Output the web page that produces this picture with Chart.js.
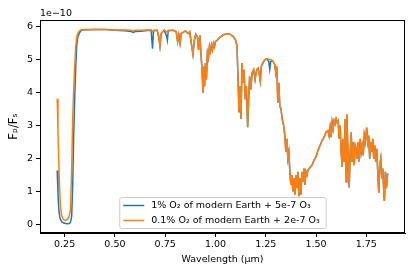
<!DOCTYPE html>
<html>
<head>
<meta charset="utf-8">
<script src="https://cdn.jsdelivr.net/npm/chart.js@4"></script>
<style>
  html, body { margin: 0; padding: 0; background: #fff; }
</style>
</head>
<body>
<canvas id="spectrum" width="415" height="277"></canvas>
<script>
// wavelength grid (micron), shared by both spectra
const wavelength = [
  0.213, 0.217, 0.221, 0.225, 0.229, 0.235, 0.243, 0.255, 0.265, 0.273,
  0.279, 0.285, 0.29, 0.295, 0.3, 0.305, 0.31, 0.315, 0.322, 0.33,
  0.34, 0.4, 0.45, 0.5, 0.55, 0.58, 0.593, 0.6, 0.63, 0.66,
  0.68, 0.687, 0.692, 0.71, 0.718, 0.724, 0.73, 0.745, 0.758, 0.761,
  0.765, 0.79, 0.805, 0.812, 0.818, 0.824, 0.83, 0.85, 0.865, 0.872,
  0.88, 0.888, 0.895, 0.902, 0.91, 0.916, 0.922, 0.928, 0.934, 0.938,
  0.942, 0.946, 0.95, 0.955, 0.96, 0.965, 0.97, 0.975, 0.98, 0.985,
  0.99, 0.995, 1.0, 1.01, 1.02, 1.04, 1.06, 1.075, 1.09, 1.1,
  1.107, 1.112, 1.117, 1.122, 1.127, 1.132, 1.137, 1.142, 1.148, 1.154,
  1.16, 1.165, 1.17, 1.176, 1.182, 1.19, 1.197, 1.205, 1.212, 1.218,
  1.223, 1.228, 1.235, 1.245, 1.255, 1.265, 1.27, 1.275, 1.285, 1.295,
  1.3, 1.305, 1.31, 1.315, 1.32, 1.326, 1.332, 1.338, 1.345, 1.35,
  1.355, 1.36, 1.365, 1.37, 1.375, 1.38, 1.385, 1.39, 1.395, 1.4,
  1.405, 1.41, 1.415, 1.42, 1.425, 1.43, 1.435, 1.44, 1.445, 1.45,
  1.455, 1.46, 1.47, 1.48, 1.49, 1.5, 1.51, 1.52, 1.53, 1.54,
  1.55, 1.56, 1.565, 1.57, 1.575, 1.58, 1.585, 1.59, 1.595, 1.6,
  1.605, 1.61, 1.615, 1.62, 1.625, 1.63, 1.635, 1.64, 1.645, 1.65,
  1.653, 1.658, 1.665, 1.67, 1.675, 1.68, 1.685, 1.69, 1.695, 1.7,
  1.705, 1.71, 1.715, 1.72, 1.725, 1.73, 1.735, 1.74, 1.745, 1.752,
  1.757, 1.762, 1.767, 1.772, 1.777, 1.782, 1.787, 1.792, 1.797, 1.802,
  1.807, 1.812, 1.817, 1.822, 1.827, 1.832, 1.837, 1.84, 1.845, 1.85,
  1.856
];

// Fp/Fs in units of 1e-10, 1% O2 + 5e-7 O3
const o2OnePercent = [
  1.64, 0.9, 0.45, 0.25, 0.15, 0.09, 0.05, 0.03, 0.02, 0.03,
  0.06, 0.25, 1.17, 2.68, 3.8, 4.75, 5.42, 5.68, 5.8, 5.88,
  5.91, 5.92, 5.92, 5.9, 5.88, 5.86, 5.83, 5.86, 5.87, 5.89,
  5.9, 5.34, 5.88, 5.9, 5.7, 5.42, 5.8, 5.9, 5.7, 5.6,
  5.88, 5.9, 5.85, 5.55, 5.75, 5.5, 5.8, 5.88, 5.8, 5.85,
  5.5, 5.17, 5.6, 5.78, 5.7, 5.3, 5.75, 5.2, 4.6, 4.0,
  4.8, 4.2, 4.9, 4.4, 5.2, 5.05, 5.4, 5.25, 5.45, 5.3,
  5.5, 5.4, 5.55, 5.6, 5.68, 5.76, 5.79, 5.77, 5.7, 5.6,
  5.42, 4.5, 3.4, 4.2, 3.2, 4.9, 4.3, 4.7, 3.8, 4.2,
  2.95, 3.8, 4.5, 4.1, 4.6, 4.7, 4.4, 4.7, 4.75, 4.55,
  4.35, 4.8, 4.9, 5.0, 5.03, 4.95, 4.71, 4.95, 4.97, 4.85,
  4.6, 4.8, 3.7, 4.3, 3.6, 3.5, 3.2, 3.05, 2.7, 2.2,
  2.6, 2.0, 2.2, 1.6, 1.2, 1.5, 1.0, 1.4, 0.9, 1.5,
  1.1, 1.6, 0.86, 1.4, 0.9, 1.6, 1.3, 1.7, 1.2, 1.6,
  1.5, 1.65, 1.73, 1.8, 1.95, 2.05, 2.25, 2.4, 2.55, 2.65,
  2.8, 2.85, 2.7, 2.95, 2.65, 3.1, 2.9, 3.15, 3.05, 3.2,
  3.1, 3.15, 2.6, 3.0, 2.2, 1.75, 2.6, 1.9, 3.2, 1.3,
  3.34, 2.4, 1.12, 2.2, 2.8, 1.9, 2.5, 1.8, 2.4, 2.3,
  2.0, 2.5, 1.9, 2.6, 2.2, 2.4, 2.1, 2.7, 2.5, 2.94,
  2.5, 2.7, 2.0, 2.5, 2.2, 2.6, 2.0, 2.4, 1.9, 2.3,
  1.6, 0.96, 1.8, 2.0, 1.4, 1.7, 1.0, 0.71, 1.6, 1.1,
  1.55
];

// Fp/Fs in units of 1e-10, 0.1% O2 + 2e-7 O3
const o2TenthPercent = [
  3.82, 2.85, 1.9, 1.1, 0.55, 0.28, 0.15, 0.12, 0.16, 0.26,
  0.46, 1.67, 3.2, 4.1, 4.8, 5.4, 5.68, 5.8, 5.87, 5.91,
  5.92, 5.92, 5.92, 5.91, 5.91, 5.9, 5.87, 5.9, 5.9, 5.91,
  5.91, 5.85, 5.9, 5.9, 5.7, 5.42, 5.8, 5.9, 5.85, 5.82,
  5.9, 5.9, 5.85, 5.55, 5.75, 5.5, 5.8, 5.88, 5.8, 5.85,
  5.5, 5.17, 5.6, 5.78, 5.7, 5.3, 5.75, 5.2, 4.6, 4.0,
  4.8, 4.2, 4.9, 4.4, 5.2, 5.05, 5.4, 5.25, 5.45, 5.3,
  5.5, 5.4, 5.55, 5.6, 5.68, 5.76, 5.79, 5.77, 5.7, 5.6,
  5.42, 4.5, 3.4, 4.2, 3.2, 4.9, 4.3, 4.7, 3.8, 4.2,
  2.95, 3.8, 4.5, 4.1, 4.6, 4.7, 4.4, 4.7, 4.75, 4.55,
  4.35, 4.8, 4.9, 5.0, 5.03, 5.02, 5.0, 5.0, 4.97, 4.85,
  4.6, 4.8, 3.7, 4.3, 3.6, 3.5, 3.2, 3.05, 2.7, 2.2,
  2.6, 2.0, 2.2, 1.6, 1.2, 1.5, 1.0, 1.4, 0.9, 1.5,
  1.1, 1.6, 0.86, 1.4, 0.9, 1.6, 1.3, 1.7, 1.2, 1.6,
  1.5, 1.65, 1.73, 1.8, 1.95, 2.05, 2.25, 2.4, 2.55, 2.65,
  2.8, 2.85, 2.7, 2.95, 2.65, 3.1, 2.9, 3.15, 3.05, 3.2,
  3.1, 3.15, 2.6, 3.0, 2.2, 1.75, 2.6, 1.9, 3.2, 1.3,
  3.34, 2.4, 1.12, 2.2, 2.8, 1.9, 2.5, 1.8, 2.4, 2.3,
  2.0, 2.5, 1.9, 2.6, 2.2, 2.4, 2.1, 2.7, 2.5, 2.94,
  2.5, 2.7, 2.0, 2.5, 2.2, 2.6, 2.0, 2.4, 1.9, 2.3,
  1.6, 0.96, 1.8, 2.0, 1.4, 1.7, 1.0, 0.71, 1.6, 1.1,
  1.55
];

const seriesLabels = [
  "1% O\u2082 of modern Earth + 5e-7 O\u2083",
  "0.1% O\u2082 of modern Earth + 2e-7 O\u2083"
];
const xTicks = [0.25, 0.5, 0.75, 1.0, 1.25, 1.5, 1.75];
const yTicks = [0, 1, 2, 3, 4, 5, 6];

const FONT = "'DejaVu Sans', sans-serif";
const BLUE = "#1f77b4";
const ORANGE = "#ff7f0e";

function toPoints(ys) {
  return wavelength.map((w, i) => ({ x: w, y: ys[i] }));
}

// frame, offset text and the in-axes legend (matplotlib style)
const decorations = {
  id: "decorations",
  afterDraw(chart) {
    const ctx = chart.ctx;
    const a = chart.chartArea;
    ctx.save();
    ctx.strokeStyle = "#000";
    ctx.lineWidth = 1;
    ctx.strokeRect(Math.round(a.left) + 0.5, Math.round(a.top) + 0.5,
      Math.round(a.right - a.left) - 1, Math.round(a.bottom - a.top) - 1);

    ctx.fillStyle = "#000";
    ctx.font = "9.5px " + FONT;
    ctx.textAlign = "left";
    ctx.textBaseline = "middle";
    ctx.fillText("1e\u221210", a.left, a.top - 6);

    // legend
    const widths = seriesLabels.map(t => ctx.measureText(t).width);
    const boxW = 32 + Math.max(...widths) + 6;
    const boxH = 31;
    const bx = (a.left + a.right) / 2 - boxW / 2;
    const by = a.bottom - 5 - boxH;
    ctx.fillStyle = "rgba(255,255,255,0.8)";
    ctx.strokeStyle = "#cccccc";
    ctx.beginPath();
    ctx.roundRect(bx + 0.5, by + 0.5, boxW, boxH, 2);
    ctx.fill();
    ctx.stroke();
    const colors = [BLUE, ORANGE];
    seriesLabels.forEach((t, i) => {
      const y = by + 8.5 + i * 15;
      ctx.strokeStyle = colors[i];
      ctx.lineWidth = 1.5;
      ctx.beginPath();
      ctx.moveTo(bx + 4, y);
      ctx.lineTo(bx + 25, y);
      ctx.stroke();
      ctx.fillStyle = "#000";
      ctx.fillText(t, bx + 32, y);
    });
    ctx.restore();
  }
};

const chart = new Chart("spectrum", {
  type: "line",
  data: {
    datasets: [
      {
        label: seriesLabels[0],
        data: toPoints(o2OnePercent),
        borderColor: BLUE,
        backgroundColor: BLUE,
        borderWidth: 1.5,
        pointRadius: 0,
        tension: 0,
        fill: false,
        order: 1,
      },
      {
        label: seriesLabels[1],
        data: toPoints(o2TenthPercent),
        borderColor: ORANGE,
        backgroundColor: ORANGE,
        borderWidth: 1.5,
        pointRadius: 0,
        tension: 0,
        fill: false,
        order: 0,
      },
    ],
  },
  options: {
    responsive: false,
    animation: false,
    devicePixelRatio: 1,
    layout: { padding: { left: 0, right: 10, top: 20, bottom: 8 } },
    plugins: {
      legend: { display: false },
      tooltip: { enabled: false },
    },
    scales: {
      x: {
        type: "linear",
        min: 0.1275,
        max: 1.9425,
        afterBuildTicks: s => { s.ticks = xTicks.map(v => ({ value: v })); },
        afterFit: s => { s.height = 36; },
        grid: { drawOnChartArea: false, tickLength: 4, color: "#000" },
        border: { color: "#000" },
        ticks: {
          color: "#000",
          font: { family: FONT, size: 9.5 },
          padding: 2,
          maxRotation: 0,
          autoSkip: false,
          callback: v => v.toFixed(2),
        },
        title: {
          display: true,
          text: "Wavelength (\u03bcm)",
          color: "#000",
          font: { family: FONT, size: 9.5 },
          padding: { top: 2 },
        },
      },
      y: {
        min: -0.26,
        max: 6.21,
        afterBuildTicks: s => { s.ticks = yTicks.map(v => ({ value: v })); },
        afterFit: s => { s.width = 40; },
        grid: { drawOnChartArea: false, tickLength: 4, color: "#000" },
        border: { color: "#000" },
        ticks: {
          color: "#000",
          font: { family: FONT, size: 9.5 },
          padding: 3,
          callback: v => String(v),
        },
        title: {
          display: true,
          text: "F\u209a/F\u209b",
          color: "#000",
          font: { family: FONT, size: 11.5 },
          padding: { top: 7 },
        },
      },
    },
  },
  plugins: [decorations],
});
</script>
</body>
</html>
